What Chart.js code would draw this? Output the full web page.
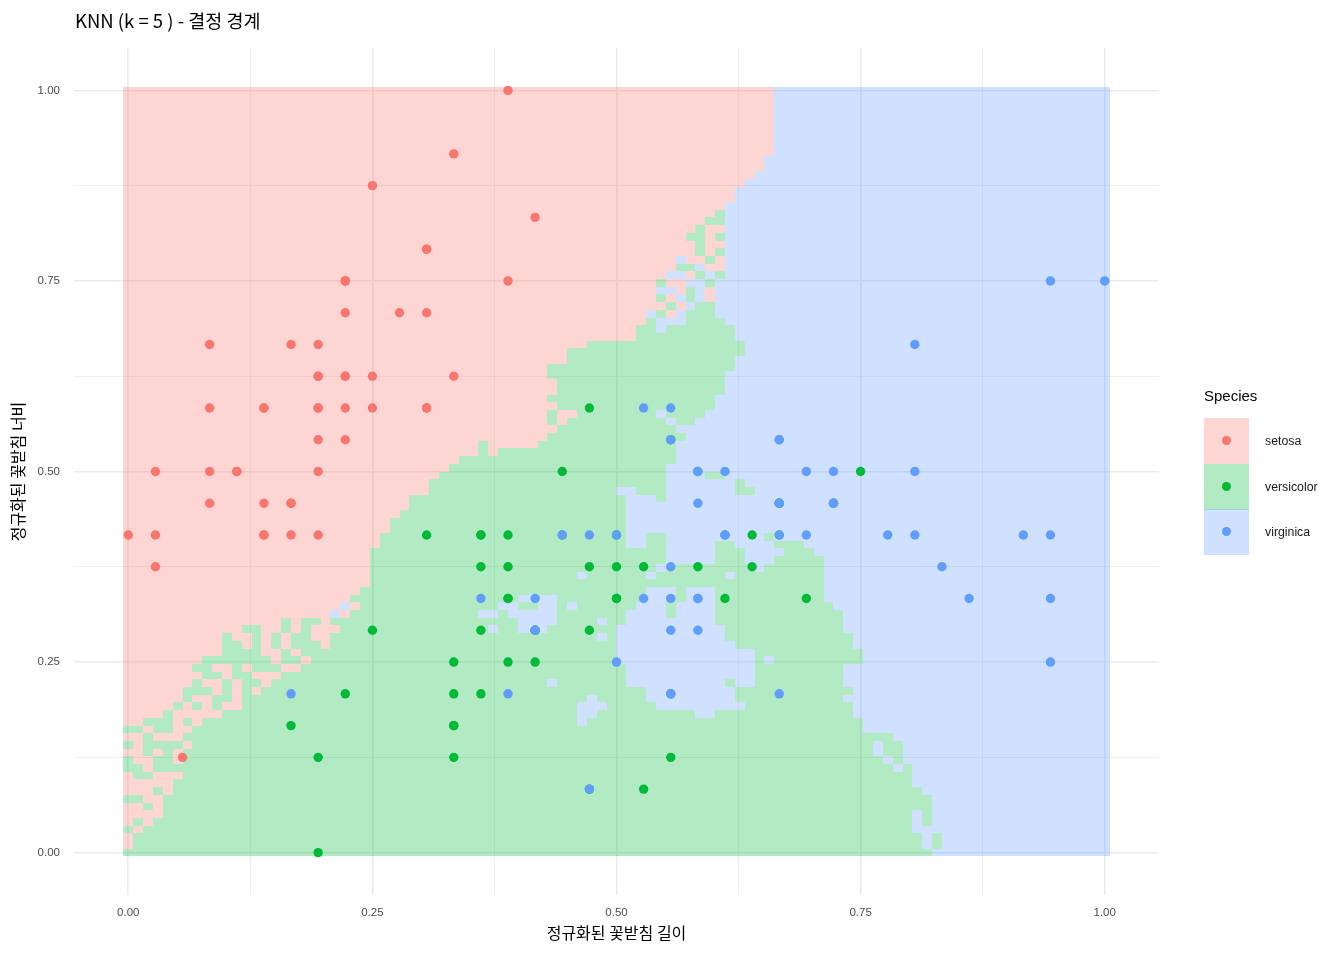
<!DOCTYPE html>
<html>
<head>
<meta charset="utf-8">
<script src="https://cdn.jsdelivr.net/npm/chart.js@4.4.1/dist/chart.umd.min.js"></script>
<style>
  body { margin: 0; background: #fff; }
  #wrap { position: relative; width: 1344px; height: 960px; }
  #title { position: absolute; left: 75px; top: 8px; font-family: "Noto Sans CJK KR"; font-size: 18.5px; line-height: 24px; color: #000; white-space: nowrap; }
  #legend { position: absolute; left: 1204px; top: 0; font-family: "Liberation Sans"; }
  #legend .lt { position: absolute; left: 0; top: 387px; font-size: 15px; line-height: 18px; color: #000; white-space: nowrap; }
  #legend .key { position: absolute; left: 0; width: 45px; height: 46px; }
  #legend .dot { position: absolute; left: 18px; top: 18px; width: 9px; height: 9px; border-radius: 50%; }
  #legend .lab { position: absolute; left: 61px; font-size: 12.3px; line-height: 14px; color: #1a1a1a; white-space: nowrap; }
</style>
</head>
<body>
<div id="wrap">
  <canvas id="knnChart" width="1344" height="960"></canvas>
  <div id="title">KNN (k = 5 ) - 결정 경계</div>
  <div id="legend"></div>
</div>
<script>
// iris 꽃받침 길이 / 너비 (cm), 종별
const setosaSL = [5.1,4.9,4.7,4.6,5.0,5.4,4.6,5.0,4.4,4.9,5.4,4.8,4.8,4.3,5.8,5.7,5.4,5.1,5.7,5.1,5.4,5.1,4.6,5.1,4.8,5.0,5.0,5.2,5.2,4.7,4.8,5.4,5.2,5.5,4.9,5.0,5.5,4.9,4.4,5.1,5.0,4.5,4.4,5.0,5.1,4.8,5.1,4.6,5.3,5.0];
const setosaSW = [3.5,3.0,3.2,3.1,3.6,3.9,3.4,3.4,2.9,3.1,3.7,3.4,3.0,3.0,4.0,4.4,3.9,3.5,3.8,3.8,3.4,3.7,3.6,3.3,3.4,3.0,3.4,3.5,3.4,3.2,3.1,3.4,4.1,4.2,3.1,3.2,3.5,3.6,3.0,3.4,3.5,2.3,3.2,3.5,3.8,3.0,3.8,3.2,3.7,3.3];
const versicolorSL = [7.0,6.4,6.9,5.5,6.5,5.7,6.3,4.9,6.6,5.2,5.0,5.9,6.0,6.1,5.6,6.7,5.6,5.8,6.2,5.6,5.9,6.1,6.3,6.1,6.4,6.6,6.8,6.7,6.0,5.7,5.5,5.5,5.8,6.0,5.4,6.0,6.7,6.3,5.6,5.5,5.5,6.1,5.8,5.0,5.6,5.7,5.7,6.2,5.1,5.7];
const versicolorSW = [3.2,3.2,3.1,2.3,2.8,2.8,3.3,2.4,2.9,2.7,2.0,3.0,2.2,2.9,2.9,3.1,3.0,2.7,2.2,2.5,3.2,2.8,2.5,2.8,2.9,3.0,2.8,3.0,2.9,2.6,2.4,2.4,2.7,2.7,3.0,3.4,3.1,2.3,3.0,2.5,2.6,3.0,2.6,2.3,2.7,3.0,2.9,2.9,2.5,2.8];
const virginicaSL = [6.3,5.8,7.1,6.3,6.5,7.6,4.9,7.3,6.7,7.2,6.5,6.4,6.8,5.7,5.8,6.4,6.5,7.7,7.7,6.0,6.9,5.6,7.7,6.3,6.7,7.2,6.2,6.1,6.4,7.2,7.4,7.9,6.4,6.3,6.1,7.7,6.3,6.4,6.0,6.9,6.7,6.9,5.8,6.8,6.7,6.7,6.3,6.5,6.2,5.9];
const virginicaSW = [3.3,2.7,3.0,2.9,3.0,3.0,2.5,2.9,2.5,3.6,3.2,2.7,3.0,2.5,2.8,3.2,3.0,3.8,2.6,2.2,3.2,2.8,2.8,2.7,3.3,3.2,2.8,3.0,2.8,3.0,2.8,3.8,2.8,2.8,2.6,3.0,3.4,3.1,3.0,3.1,3.1,3.1,2.7,3.2,3.3,3.0,2.5,3.0,3.4,3.0];

const speciesNames = ['setosa', 'versicolor', 'virginica'];
const pointColors = ['#F8766D', '#00BA38', '#619CFF'];
const tileColors = ['rgba(248,118,109,0.3)', 'rgba(0,186,56,0.3)', 'rgba(97,156,255,0.3)'];

const xTicks = [0, 0.125, 0.25, 0.375, 0.5, 0.625, 0.75, 0.875, 1];
const yTicks = [0, 0.125, 0.25, 0.375, 0.5, 0.625, 0.75, 0.875, 1];

// 결정 경계 격자 100 x 100, 위(너비 1.00)에서 아래(0.00)로 한 줄씩
// s = setosa, c = versicolor, v = virginica, 숫자 = 연속 칸 수 (왼쪽부터)
const gridSize = 100;
const regionRows = [
  's66v34','s66v34','s66v34','s66v34','s66v34','s66v34','s66v34','s66v34','s66v34',
  's65v35','s65v35','s64v36','s63v37','s62v38','s62v38','s61v39',
  's60c1v39','s59c2v39','s58c1s2v39','s57c2s1c1v39','s58c1s2v39','s58c1s1c1v39',
  's56v1s2c1s1v39','s56c2v1s2v39','s55v2s1c1v1c1v39','s54c1s2v2c1v40',
  's54v2s1c1v1s1v40','s54c1s1v1c1v1s1v40','s55c1s1v1c2v40','s53v1c1s1v1c3v40',
  's53c1v3c4v39','s52c2v1c7v38','s52c10v38',
  's47c16v37','s45c18v37','s45c17v38','s43c19v38','s43c18v39','s44c17v39','s44c17v39',
  's43c17v40','s44c16v40','s43c1s2c8v1c4v41','s43c1s1c10v1c2v42','s44c12v44','s43c14v43',
  's36c1s5c14v44','s36c1s1c18v44','s34c22v44','s33c22v45',
  's32c23v4c2v39','s31c24v7c1v37','s31c19v2c3v7c2v36','s29c22v3c1v45',
  's29c22v49','s28c23v49','s27c24v49','s27c24v49',
  's26c25v2c2v10c1v34','s26c25v2c2v5c2v4c3v31','s25c30v5c3v4c3v30','s25c30v5c3v3c5v29',
  's25c29v1c9v1c6v29','s25c21v1c6v1c7v1c9v29','s25c46v29','s24c29v3c1v3c11v29',
  's23c17v4c9v2c2v3c11v29',
  's22v1s1c14v2c2v2c1v1c6v3c1v4c12v28',
  's21v1s1c13v2c1v5c7v4c1v4c13v27',
  's16c1s1c2s1c19v4c4v1c2v9c13v27',
  's12c2s2c1s1c1s3c15v1c2v3c7v11c12v27',
  's10c1s2c1s1c1s1c2s2c27v1c1v11c13v26',
  's10c2s1c1s1c1s1c3s1c29v12c12v26',
  's10c4s2c1s1c32v14c11v25',
  's8c7s1c2s1c31v14c1v1c9v25',
  's7c2s2c1s1c3s2c33v13c9v27',
  's8c2s1c2s3c35v13c9v27',
  's7c1s2c1s1c2s1c28v1c7v10c1v2c9v27',
  's6c3s1c1s1c1s1c39v9c12v26',
  's6c1s2c2s1c35v1c5v9c11v27',
  's5c1s1c1s1c1s2c34v3c5v9c11v26',
  's4c1s5c36v2c10v2c14v26',
  's2c3s1c1s1c38v1c28v25',
  'c2s1c2s2c68v25',
  's2c1s3c72v22',
  'c1s1c4s1c69v1c2v21',
  's2c1s1c1s1c70v1c2v21',
  'c1s2c2s1c71v1c1v21',
  'c2s1c75v1c1v20',
  's1c2s3c74v20',
  's5c75v20',
  's3c1s1c76v19',
  'c2s2c78v18',
  's2c1s1c78v18',
  's4c76v1c1v18',
  's1c1s1c77v1c1v18',
  'c1s1c78v20',
  's1c80v1c1v17',
  's1c80v1c1v17',
  'c82v18'
];

// min-max 정규화
const allSL = setosaSL.concat(versicolorSL, virginicaSL);
const allSW = setosaSW.concat(versicolorSW, virginicaSW);
const slMin = Math.min(...allSL), slMax = Math.max(...allSL);
const swMin = Math.min(...allSW), swMax = Math.max(...allSW);

const groups = [[setosaSL, setosaSW], [versicolorSL, versicolorSW], [virginicaSL, virginicaSW]];
const datasets = groups.map((g, s) => ({
    label: speciesNames[s],
    data: g[0].map((sl, i) => ({ x: (sl - slMin) / (slMax - slMin), y: (g[1][i] - swMin) / (swMax - swMin) })),
    backgroundColor: pointColors[s],
    borderWidth: 0,
    pointRadius: 4.7,
    pointHoverRadius: 4.7,
    order: 3 - s
}));

// 줄 문자열 -> 칸 목록
const classIndex = { s: 0, c: 1, v: 2 };
const cells = [];
regionRows.forEach((row, r) => {
    const j = gridSize - 1 - r;
    let i = 0;
    row.replace(/([scv])(\d+)/g, (m, k, n) => {
        for (let t = 0; t < +n; t++, i++) {
            cells.push({ x: i / (gridSize - 1), y: j / (gridSize - 1), c: classIndex[k] });
        }
        return m;
    });
});

const tilePlugin = {
    id: 'tiles',
    beforeDatasetsDraw(chart) {
        const { ctx, scales: { x, y } } = chart;
        const h = 0.5 / (gridSize - 1);
        ctx.save();
        for (let c = 0; c < 3; c++) {
            ctx.beginPath();
            cells.forEach(cell => {
                if (cell.c !== c) return;
                const l = Math.round(x.getPixelForValue(cell.x - h));
                const rr = Math.round(x.getPixelForValue(cell.x + h));
                const t = Math.round(y.getPixelForValue(cell.y + h));
                const b = Math.round(y.getPixelForValue(cell.y - h));
                ctx.rect(l, t, rr - l, b - t);
            });
            ctx.fillStyle = tileColors[c];
            ctx.fill();
        }
        ctx.restore();
    }
};

const isMajor = v => Math.abs(v * 4 - Math.round(v * 4)) < 1e-9;
const gridOpts = {
    color: '#EBEBEB',
    lineWidth: c => (c.tick && isMajor(c.tick.value)) ? 1.6 : 0.8,
    drawTicks: false
};
const tickFont = { family: 'Liberation Sans', size: 11.5 };
const titleFont = { family: 'Noto Sans CJK KR', size: 16 };

new Chart(document.getElementById('knnChart').getContext('2d'), {
    type: 'scatter',
    data: { datasets: datasets },
    plugins: [tilePlugin],
    options: {
        responsive: false,
        animation: false,
        events: [],
        layout: { padding: { left: 0, right: 185, top: 48, bottom: 0 } },
        plugins: { legend: { display: false }, tooltip: { enabled: false } },
        scales: {
            x: {
                type: 'linear',
                min: -0.0556,
                max: 1.0556,
                afterBuildTicks: s => { s.ticks = xTicks.map(v => ({ value: v })); },
                afterFit: s => { s.height = 65; },
                grid: gridOpts,
                border: { display: false },
                ticks: {
                    autoSkip: false, maxRotation: 0, padding: 11, color: '#4D4D4D', font: tickFont,
                    callback: v => isMajor(v) ? v.toFixed(2) : ''
                },
                title: { display: true, text: '정규화된 꽃받침 길이', color: '#000', font: titleFont, padding: { top: 0, bottom: 17 } }
            },
            y: {
                type: 'linear',
                min: -0.0556,
                max: 1.0556,
                afterBuildTicks: s => { s.ticks = yTicks.map(v => ({ value: v })); },
                afterFit: s => { s.width = 74; },
                grid: gridOpts,
                border: { display: false },
                ticks: {
                    autoSkip: false, padding: 14, color: '#4D4D4D', font: tickFont,
                    callback: v => isMajor(v) ? v.toFixed(2) : ''
                },
                title: { display: true, text: '정규화된 꽃받침 너비', color: '#000', font: titleFont, padding: { top: 8, bottom: 0 } }
            }
        }
    }
});

// 범례
const legendEl = document.getElementById('legend');
let html = '<div class="lt">Species</div>';
speciesNames.forEach((name, s) => {
    const top = 418 + s * 45.7;
    html += `<div class="key" style="top:${top}px;background:${tileColors[s]}"><span class="dot" style="background:${pointColors[s]}"></span></div>`;
    html += `<div class="lab" style="top:${top + 16}px">${name}</div>`;
});
legendEl.innerHTML = html;
</script>
</body>
</html>
